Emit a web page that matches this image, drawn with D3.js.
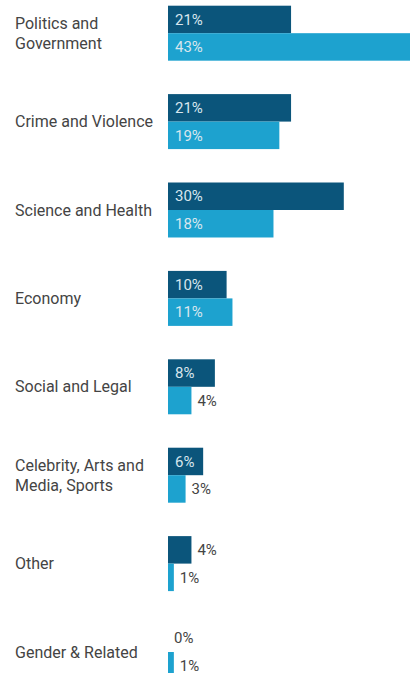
<!DOCTYPE html>
<html>
<head>
<meta charset="utf-8">
<script src="https://cdn.jsdelivr.net/npm/d3@7"></script>
<style>
  body { margin: 0; background: #fff; }
  svg text { font-family: Roboto, "Noto Sans", sans-serif; }
</style>
</head>
<body>
<svg id="chart" width="410" height="673"></svg>
<script>
let categories = [
    ["Politics and", "Government"],
    ["Crime and Violence"],
    ["Science and Health"],
    ["Economy"],
    ["Social and Legal"],
    ["Celebrity, Arts and", "Media, Sports"],
    ["Other"],
    ["Gender & Related"]
]
let seriesA = [21, 21, 30, 10, 8, 6, 4, 0]
let seriesB = [43, 19, 18, 11, 4, 3, 1, 1]
let seriesNames = ["a", "b"]
let colors = ["#0b557b", "#1da2cf"]

let pad_left = 168
let svg = d3.select('#chart')

let rows = categories.map((c, i) => ({key: i, label: c, values: [seriesA[i], seriesB[i]]}))

let yScale = d3.scaleBand().domain(d3.range(categories.length))
    .range([5.7, 679.5]).paddingInner(0.378).paddingOuter(0).align(0)
let subScale = d3.scaleBand().domain(seriesNames).range([0, yScale.bandwidth()])
let xScale = d3.scaleLinear().domain([0, 10]).range([pad_left, pad_left + 58.6])
let colorScale = d3.scaleOrdinal(seriesNames, colors)

// category labels
let labels = svg.append('g').selectAll('text').data(rows).join('text')
    .attr('x', 15)
    .attr('fill', '#444')
    .style('font-size', '16px')
    .attr('transform', d => {
        let cy = yScale(d.key) + yScale.bandwidth() / 2 - (d.label.length - 1) * 10
        return 'translate(0,' + cy + ')'
    })
labels.selectAll('tspan').data(d => d.label).join('tspan')
    .attr('x', 15)
    .attr('y', (d, i) => i * 20)
    .attr('dy', '0.35em')
    .text(d => d)

// bars
let groups = svg.append('g').selectAll('g').data(rows).join('g')
    .attr('transform', d => 'translate(0,' + yScale(d.key) + ')')

let cells = groups.selectAll('g').data(d => d.values.map((v, i) => ({name: seriesNames[i], value: v})))
    .join('g')

cells.append('rect')
    .attr('x', xScale(0))
    .attr('y', d => subScale(d.name))
    .attr('width', d => xScale(d.value) - xScale(0))
    .attr('height', subScale.bandwidth())
    .attr('fill', d => colorScale(d.name))

cells.append('text')
    .text(d => d.value + '%')
    .attr('x', d => {
        let w = xScale(d.value) - xScale(0)
        return w > 30 ? xScale(0) + 7 : xScale(d.value) + 6
    })
    .attr('y', d => subScale(d.name) + subScale.bandwidth() / 2)
    .attr('dy', '0.35em')
    .attr('fill', d => (xScale(d.value) - xScale(0)) > 30 ? '#d8e6ee' : '#444')
    .style('font-size', '15px')
</script>
</body>
</html>
